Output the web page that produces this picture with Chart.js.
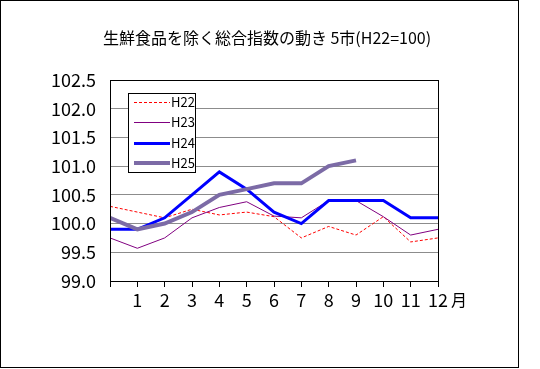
<!DOCTYPE html>
<html><head><meta charset="utf-8">
<script src="https://cdn.jsdelivr.net/npm/chart.js@4"></script>
<style>html,body{margin:0;padding:0;background:#fff}</style>
</head><body>
<canvas id="c" width="540" height="369"></canvas>
<script>
const chartTitle = '生鮮食品を除く総合指数の動き 5市(H22=100)';
const xUnit = '月';
const months = [0,1,2,3,4,5,6,7,8,9,10,11,12];
const seriesNames = ['H22','H23','H24','H25'];
const h22 = [100.3,100.2,100.1,100.25,100.15,100.2,100.12,99.75,99.95,99.8,100.12,99.68,99.75];
const h23 = [99.75,99.57,99.75,100.1,100.28,100.38,100.13,100.1,100.4,100.4,100.12,99.8,99.9];
const h24 = [99.9,99.9,100.1,100.5,100.9,100.6,100.2,100.0,100.4,100.4,100.4,100.1,100.1];
const h25 = [100.1,99.9,100.0,100.2,100.5,100.6,100.7,100.7,101.0,101.1];
const yMin = 99.0, yMax = 102.5, yStep = 0.5;

const FONT = "'Noto Sans CJK JP', 'Noto Sans', sans-serif";
const pts = arr => arr.map((v,i)=>({x:months[i], y:v}));

const styles = [
  {color:'#ff0000', width:1, dash:[3,2]},
  {color:'#800080', width:1, dash:[]},
  {color:'#0000ff', width:3, dash:[]},
  {color:'#7c6ba6', width:4, dash:[]}
];
const allData = [h22,h23,h24,h25];

const datasets = allData.map((d,i)=>({
  label: seriesNames[i],
  data: pts(d),
  borderColor: styles[i].color,
  borderWidth: styles[i].width,
  borderDash: styles[i].dash,
  pointRadius: 0,
  tension: 0,
  fill: false
})).reverse();

const decor = {
  id:'decor',
  afterDraw(chart){
    const ctx = chart.ctx, a = chart.chartArea;
    ctx.save();
    // plot frame
    ctx.strokeStyle = '#000'; ctx.lineWidth = 1; ctx.setLineDash([]);
    ctx.strokeRect(Math.round(a.left)+0.5, Math.round(a.top)+0.5, Math.round(a.right-a.left)-1+1, Math.round(a.bottom-a.top));
    // outer border
    ctx.strokeRect(0.5,0.5,518,367);
    // title
    ctx.fillStyle = '#000';
    ctx.font = '16px ' + FONT;
    ctx.textAlign = 'center'; ctx.textBaseline = 'middle';
    ctx.fillText(chartTitle, 267, 38);
    // x unit
    ctx.font = '16px ' + FONT;
    ctx.fillText(xUnit, 459, 300);
    // legend
    const lx = 128, ly = 93, lw = 67, lh = 79;
    ctx.fillStyle = '#fff';
    ctx.fillRect(lx, ly, lw, lh);
    ctx.strokeStyle = '#000'; ctx.lineWidth = 1;
    ctx.strokeRect(lx+0.5, ly+0.5, lw, lh);
    const rows = [102,122,143,163];
    seriesNames.forEach((n,i)=>{
      const s = styles[i];
      ctx.strokeStyle = s.color; ctx.lineWidth = s.width; ctx.setLineDash(s.dash);
      ctx.beginPath();
      const yy = s.width % 2 ? rows[i]+0.5 : rows[i];
      ctx.moveTo(134, yy); ctx.lineTo(170, yy); ctx.stroke();
      ctx.setLineDash([]);
      ctx.fillStyle = '#000';
      ctx.font = '13px ' + FONT;
      ctx.textAlign = 'left'; ctx.textBaseline = 'middle';
      ctx.fillText(n, 171, rows[i]);
    });
    ctx.restore();
  }
};

new Chart(document.getElementById('c'), {
  type:'line',
  data:{datasets},
  options:{
    responsive:false,
    animation:false,
    devicePixelRatio:1,
    layout:{padding:{left:0, right:102, top:80, bottom:0}},
    plugins:{legend:{display:false}, title:{display:false}, tooltip:{enabled:false}},
    scales:{
      x:{
        type:'linear', min:0, max:12,
        afterFit(s){ s.height = 88; },
        ticks:{stepSize:1, color:'#000', font:{family:FONT, size:18}, padding:2,
          callback:v=> v===0 ? '' : String(v), maxRotation:0, autoSkip:false},
        grid:{drawOnChartArea:false, drawTicks:true, tickLength:6, color:'#000'},
        border:{display:true, color:'#000'}
      },
      y:{
        min:yMin, max:yMax,
        afterFit(s){ s.width = 110; },
        ticks:{stepSize:yStep, color:'#000', font:{family:FONT, size:18}, padding:14,
          callback:v=> Number(v).toFixed(1)},
        grid:{drawTicks:false, color:ctx=> (ctx.tick && (ctx.tick.value===yMin || ctx.tick.value===yMax)) ? 'rgba(0,0,0,0)' : '#8c8c8c'},
        border:{display:true, color:'#000'}
      }
    }
  },
  plugins:[decor]
});
</script>
</body></html>
